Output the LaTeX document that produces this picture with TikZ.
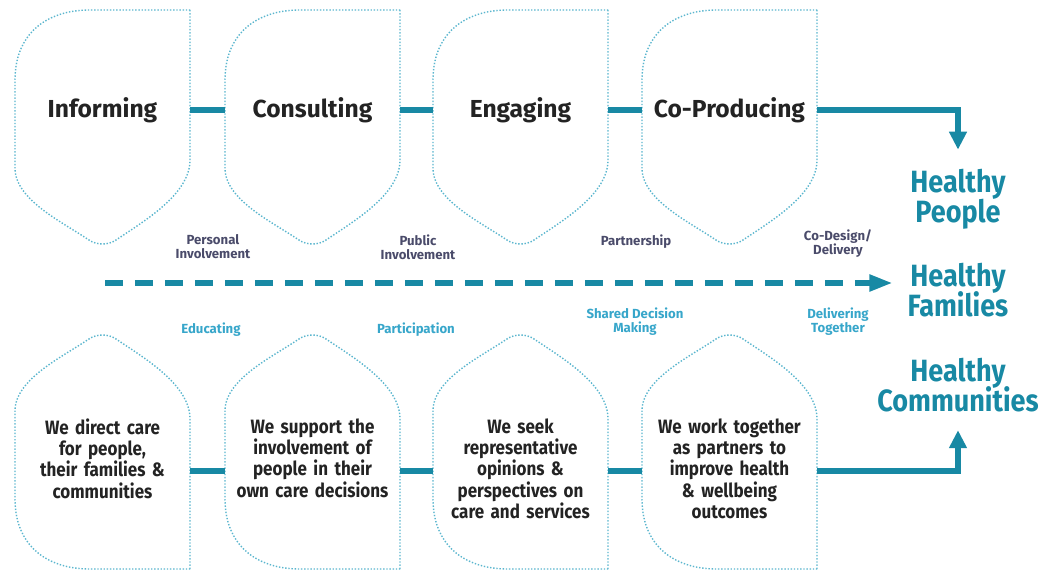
\documentclass[tikz,border=0pt]{standalone}
\usepackage{fontspec}
\setmainfont{Fira Sans}
\newfontfamily\narrowfont{Fira Sans}[FakeStretch=0.88]
\usepackage{xcolor}
\usepackage{tikz}
\usetikzlibrary{arrows.meta}
\usetikzlibrary{calc}
\usetikzlibrary{positioning}

\definecolor{cellblue}{HTML}{5BB6CE}
\definecolor{linkteal}{HTML}{1889A4}
\definecolor{slate}{HTML}{4A4B6A}
\definecolor{skyteal}{HTML}{37A6CA}
\definecolor{ink}{HTML}{232323}

\begin{document}
\begin{tikzpicture}[x=0.02cm, y=-0.02cm, >={Triangle[length=0.36cm,width=0.34cm]},
cellline/.style={cellblue, line width=0.8pt, dash pattern=on 0.8pt off 1pt},
cell/.pic={\draw[cellline] (87.5,-100) -- (87.5,50) .. controls (87.5,85) and (40,112) .. (12,131) .. controls (5,135) and (-5,135) .. (-12,131) .. controls (-40,112) and (-87.5,90) .. (-87.5,58) -- (-87.5,-30) .. controls (-87.5,-75) and (-57.5,-100) .. (-12.5,-100) -- cycle;},
stage/.style={text width=3.5cm, align=center, inner sep=0pt, text=ink, font=\fontsize{14}{16}\selectfont\bfseries},
deed/.style={text width=3.5cm, align=center, inner sep=0pt, anchor=north, text=ink, font=\narrowfont\fontsize{11}{12.2}\selectfont\bfseries},
goal/.style={align=center, inner sep=0pt, text=linkteal, font=\narrowfont\fontsize{17.5}{17}\selectfont\bfseries, execute at begin node={\setlength{\lineskiplimit}{-20pt}}},
toplab/.style={align=center, inner sep=0pt, text=slate, font=\fontsize{7.5}{8}\selectfont\bfseries},
botlab/.style={align=center, inner sep=0pt, text=skyteal, font=\fontsize{7.5}{8}\selectfont\bfseries},
link/.style={linkteal, line width=3pt}]
\useasboundingbox (0,0) rectangle (1046,571);
% top row
\node[stage] (inf) at (102.5,110) {Informing};
\node[stage] (con) at (312.5,110) {Consulting};
\node[stage] (eng) at (520.5,110) {Engaging};
\node[stage] (cop) at (729.5,110) {Co-Producing};
\pic at (inf) {cell};
\pic at (con) {cell};
\pic at (eng) {cell};
\pic at (cop) {cell};
% bottom row
\coordinate (lowrow) at (0,471);
\node[deed] (dir) at (102.5,418) {We direct care\\for people,\\their families \&\\communities};
\node[deed] (sup) at (312.5,418) {We support the\\involvement of\\people in their\\own care decisions};
\node[deed] (see) at (520.5,418) {We seek\\representative\\opinions \&\\perspectives on\\care and services};
\node[deed] (wor) at (729.5,418) {We work together\\as partners to\\improve health\\\& wellbeing\\outcomes};
\pic[yscale=-1] at (102.5,469) {cell};
\pic[yscale=-1] at (312.5,469) {cell};
\pic[yscale=-1] at (520.5,469) {cell};
\pic[yscale=-1] at (729.5,469) {cell};
% outcomes
\node[goal] (hp) at (958,199) {Healthy\\People};
\node[goal] (hf) at (958,290) {Healthy\\Families};
\node[goal] (hc) at (958,385) {Healthy\\Communities};
% labels round the dashed line
\node[toplab] (pin) at (213,247) {Personal\\Involvement};
\node[toplab] (pub) at (418,247) {Public\\Involvement};
\node[toplab] (par) at (636,242) {Partnership};
\node[toplab] (cod) at (838,244) {Co-Design/\\Delivery};
\node[botlab] (edu) at (211,330) {Educating};
\node[botlab] (pct) at (416,330) {Participation};
\node[botlab] (sdm) at (635,322) {Shared Decision\\Making};
\node[botlab] (dlt) at (838,322) {Delivering\\Together};
\coordinate (dstart) at (105,283);
\draw[link] (inf) -- (con);
\draw[link] (con) -- (eng);
\draw[link] (eng) -- (cop);
\draw[link,->,shorten >=0.38cm] (cop.east) -| (hp.north);
\draw[link] (dir.east |- lowrow) -- (sup.west |- lowrow);
\draw[link] (sup.east |- lowrow) -- (see.west |- lowrow);
\draw[link] (see.east |- lowrow) -- (wor.west |- lowrow);
\draw[link,->,shorten >=0.36cm] (wor.east |- lowrow) -| (hc.south);
\draw[link, dash pattern=on 0.36cm off 0.24cm, -{Triangle[length=0.46cm,width=0.32cm]}, shorten >=0.3cm] (dstart) -- (dstart -| hf.west);
\end{tikzpicture}
\end{document}
